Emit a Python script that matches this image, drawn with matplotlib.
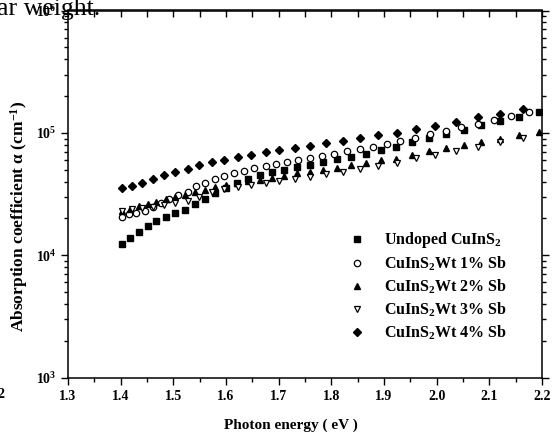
#!/usr/bin/env python3
# -*- coding: utf-8 -*-

import math
import matplotlib
matplotlib.use('Agg')
import matplotlib.pyplot as plt
from matplotlib.ticker import MultipleLocator, LogLocator, FuncFormatter, NullFormatter

# photon energy (eV) and absorption coefficient (cm^-1)
e_undoped = [1.402, 1.418, 1.434, 1.451, 1.468, 1.486, 1.504, 1.522, 1.541, 1.560,
             1.580, 1.600, 1.621, 1.642, 1.665, 1.688, 1.711, 1.735, 1.760, 1.785,
             1.811, 1.838, 1.865, 1.894, 1.923, 1.954, 1.985, 2.017, 2.051, 2.085,
             2.120, 2.157, 2.195]
a_undoped = [12300, 13800, 15500, 17200, 19200, 20600, 22300, 23600, 26300, 28800,
             32100, 35200, 38700, 41700, 45200, 48000, 50200, 52800, 55000, 57600,
             60800, 63800, 67800, 72500, 77400, 83900, 90500, 97400, 105600, 116000,
             125600, 135400, 147300]

e_1 = [1.402, 1.416, 1.430, 1.446, 1.461, 1.477, 1.492, 1.509, 1.527, 1.543,
       1.561, 1.579, 1.597, 1.615, 1.634, 1.654, 1.675, 1.695, 1.716, 1.737,
       1.759, 1.783, 1.806, 1.829, 1.854, 1.880, 1.905, 1.931, 1.959, 1.987,
       2.017, 2.047, 2.078, 2.109, 2.142, 2.176]
a_1 = [20700, 21600, 22300, 23100, 24800, 26800, 28700, 30900, 32900, 36500,
       39200, 41800, 44400, 46600, 48800, 51200, 53700, 55700, 57800, 60000,
       62400, 65100, 67600, 70500, 73900, 77100, 81100, 85800, 91700, 98000,
       103300, 111100, 118900, 127400, 136700, 147300]

e_2 = e_undoped
a_2 = [23150, 24030, 25180, 26140, 27240, 28700, 29950, 31260, 32600, 34150,
       36300, 37750, 39100, 40300, 41400, 43000, 44650, 46600, 47950, 49450,
       51950, 54200, 56750, 59550, 60650, 65950, 71150, 74850, 79400, 84800,
       90000, 96700, 101700]

e_3 = [1.402, 1.421, 1.441, 1.462, 1.483, 1.504, 1.527, 1.549, 1.573, 1.597,
       1.622, 1.647, 1.675, 1.701, 1.731, 1.759, 1.790, 1.822, 1.854, 1.888,
       1.924, 1.960, 1.997, 2.036, 2.078, 2.120, 2.164]
a_3 = [23150, 23750, 24350, 24950, 25850, 26600, 27900, 29950, 32800, 34800,
       36150, 37750, 38950, 40600, 41850, 43450, 46150, 47950, 50900, 53950,
       57300, 61980, 66350, 71800, 77100, 84300, 90500]

e_4 = e_3
a_4 = [35200, 37000, 39000, 42000, 45000, 48200, 50700, 54700, 57500, 60400,
       63900, 66400, 69500, 72100, 75300, 78600, 82200, 85900, 90800, 95500,
       100400, 108200, 114500, 122700, 134000, 143500, 156700]

labels = ['Undoped CuInS$_\\mathbf{2}$',
          'CuInS$_\\mathbf{2}$Wt 1% Sb',
          'CuInS$_\\mathbf{2}$Wt 2% Sb',
          'CuInS$_\\mathbf{2}$Wt 3% Sb',
          'CuInS$_\\mathbf{2}$Wt 4% Sb']

plt.rcParams['font.family'] = ['Liberation Serif', 'DejaVu Serif']
plt.rcParams['font.weight'] = 'bold'
plt.rcParams['mathtext.fontset'] = 'custom'
plt.rcParams['mathtext.rm'] = 'Liberation Serif:bold'
plt.rcParams['mathtext.bf'] = 'Liberation Serif:bold'
plt.rcParams['mathtext.it'] = 'Liberation Serif:italic:bold'

fig = plt.figure(figsize=(5.53, 4.32), dpi=100)
ax = fig.add_axes([68/553, 1 - 377.7/432, (542-68)/553, (377.7-10.5)/432])

ms = 4.3
ax.plot(e_undoped, a_undoped, 's', color='black', ms=ms, label=labels[0])
ax.plot(e_1, a_1, 'o', mfc='white', mec='black', mew=0.9, ms=ms+0.3, label=labels[1])
ax.plot(e_2, a_2, '^', color='black', ms=ms+0.4, label=labels[2])
ax.plot(e_3, a_3, 'v', mfc='white', mec='black', mew=0.9, ms=ms+0.4, label=labels[3])
ax.plot(e_4, a_4, 'D', color='black', ms=ms-0.3, label=labels[4])

ax.set_yscale('log')
ax.set_xlim(1.3, 2.2)
ax.set_ylim(1e3, 1e6)

ax.xaxis.set_major_locator(MultipleLocator(0.1))
ax.xaxis.set_minor_locator(MultipleLocator(0.05))
ax.xaxis.set_major_formatter(FuncFormatter(lambda v, p: '%.1f' % v))
ax.yaxis.set_major_locator(LogLocator(base=10))
ax.yaxis.set_minor_locator(LogLocator(base=10, subs=range(2, 10)))
ax.yaxis.set_minor_formatter(NullFormatter())
ax.yaxis.set_major_formatter(FuncFormatter(lambda v, p: r'$\mathbf{10^{%d}}$' % round(math.log10(v))))

for s in ax.spines.values():
  s.set_linewidth(1.1)
ax.tick_params(which='both', direction='out', right=True, top=False, width=1.0, labelsize=10)
ax.tick_params(which='major', length=5)
ax.tick_params(which='minor', length=3)

# top axis: ticks point into the frame in the original
top = ax.secondary_xaxis('top')
top.xaxis.set_major_locator(MultipleLocator(0.1))
top.xaxis.set_minor_locator(MultipleLocator(0.05))
top.tick_params(which='both', direction='in', length=5, width=1.0, labeltop=False)
top.spines['top'].set_linewidth(1.1)

ax.set_xlabel('Photon energy ( eV )', fontsize=11, fontweight='bold')
ax.xaxis.set_label_coords(0.47, -0.112)
ax.set_ylabel('Absorption coefficient \u03b1 (cm$^{\\mathbf{-1}}$)', fontsize=12.5, fontweight='bold')
ax.yaxis.set_label_coords(-0.08, 0.439)

ax.legend(loc='upper left', bbox_to_anchor=(0.575, 0.423), frameon=False,
          handlelength=1.0, handletextpad=1.2, labelspacing=0.28, borderpad=0,
          prop={'weight': 'bold', 'size': 11.5})

# cropped caption fragments from the source page
fig.text(-0.005, 1 - 15/432, 'ar weight.', fontsize=18.5, fontweight='normal', ha='left', va='baseline')
fig.text(-0.004, 1 - 398/432, '2', fontsize=10, ha='left', va='baseline')

fig.savefig('out.png', dpi=100)
